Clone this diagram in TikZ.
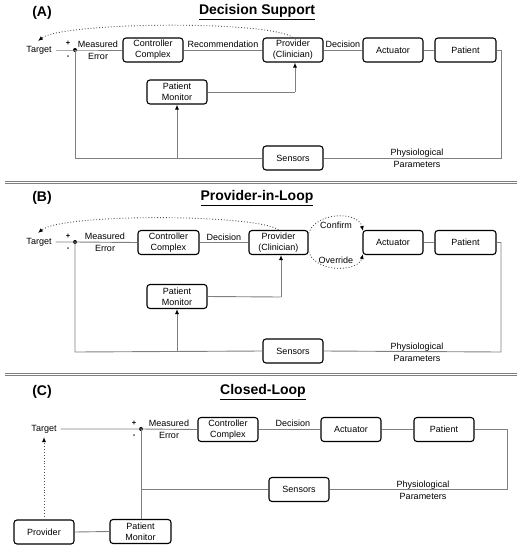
\documentclass[tikz,border=0pt]{standalone}
\usepackage{fontspec}
\setmainfont{Liberation Sans}
\usetikzlibrary{arrows.meta}
\definecolor{lineg}{HTML}{808080}
\definecolor{dotg}{HTML}{505050}
\tikzset{
  blk/.style={draw=black, line width=1.1pt, rounded corners=3pt, minimum width=60pt, minimum height=24pt, inner sep=1pt, align=center, font=\fontsize{9}{11}\selectfont},
  lbl/.style={inner sep=0pt, align=center, font=\fontsize{9}{11}\selectfont},
  sgn/.style={inner sep=0pt, font=\bfseries\fontsize{7.5}{8}\selectfont},
  ttl/.style={inner sep=0pt, font=\bfseries\fontsize{14}{16}\selectfont},
  conn/.style={draw=lineg, line width=0.9pt},
  arr/.style={conn, -{Latex[black,length=5pt,width=4pt]}},
  dot/.style={draw=dotg, line width=0.9pt, dotted, -{Latex[black,length=5pt,width=4pt]}},
  sep/.style={draw=lineg, line width=1pt},
  jdot/.style={fill=black, circle, inner sep=0pt, minimum size=4pt}
}
\begin{document}
\begin{tikzpicture}[x=1pt,y=-1pt]
\useasboundingbox (0,0) rectangle (523,550);

% ================= Panel A =================
\node[ttl] (labA) at (42,13) {(A)};
\node[ttl] (titA) at (257,12) {\underline{Decision Support}};
\node[lbl] (tgtA) at (39,50) {Target};
\node[jdot] (jA) at (75,50) {};
\node[sgn] (plA) at (68,43) {+};
\node[sgn] (miA) at (68,57) {-};
\node[blk] (ccA) at (153,50) {Controller\\Complex};
\node[blk] (prA) at (293,50) {Provider\\(Clinician)};
\node[blk] (acA) at (393,50) {Actuator};
\node[blk, minimum width=61pt] (paA) at (465.5,50) {Patient};
\node[blk] (pmA) at (177,92) {Patient\\Monitor};
\node[blk] (seA) at (293,158) {Sensors};
\node[lbl] (meA) at (98,50) {Measured\\[1pt]Error};
\node[lbl] (reA) at (223,44) {Recommendation};
\node[lbl] (deA) at (343,44) {Decision};
\node[lbl] (phA) at (417,158.5) {Physiological\\[1pt]Parameters};
\coordinate (rA1) at (501,50);
\coordinate (rA2) at (501,158);
\coordinate (lA) at (75,158);
\coordinate (bA) at (177,158);
\coordinate (mA) at (295,92);
\draw[conn] (tgtA.east) ++(4,0) -- (jA.center) -- (ccA.west);
\draw[conn] (ccA) -- (prA);
\draw[conn] (prA) -- (acA);
\draw[conn] (acA) -- (paA);
\draw[conn] (paA.east) -- (rA1) -- (rA2) -- (seA.east);
\draw[conn] (seA.west) -- (lA) -- (jA.center);
\draw[arr] (bA) -- (pmA.south);
\draw[conn] (pmA.east) -- (mA);
\draw[arr] (mA) -- (mA |- prA.south);
\draw[dot] (prA.north) .. controls (268,20) and (62,22) .. (38,41);

% separator
\draw[sep] (5,181) -- (517,181);
\draw[sep] (5,183.5) -- (517,183.5);

% ================= Panel B =================
\node[ttl] (labB) at (42,198) {(B)};
\node[ttl] (titB) at (257,198) {\underline{Provider-in-Loop}};
\node[lbl] (tgtB) at (39,242) {Target};
\node[jdot] (jB) at (75,242) {};
\node[sgn] (plB) at (68,236) {+};
\node[sgn] (miB) at (68,249) {-};
\node[blk, minimum width=61pt] (ccB) at (168.5,242.5) {Controller\\Complex};
\node[blk, minimum width=59pt] (prB) at (278.5,242.5) {Provider\\(Clinician)};
\node[blk] (acB) at (393,242.5) {Actuator};
\node[blk, minimum width=61pt] (paB) at (465.5,242.5) {Patient};
\node[blk] (pmB) at (177,296.5) {Patient\\Monitor};
\node[blk] (seB) at (293,351) {Sensors};
\node[lbl] (meB) at (105,242) {Measured\\[1pt]Error};
\node[lbl] (deB) at (224,237) {Decision};
\node[lbl] (coB) at (336,225) {Confirm};
\node[lbl] (ovB) at (336,260) {Override};
\node[lbl] (phB) at (417,352) {Physiological\\[1pt]Parameters};
\coordinate (rB1) at (501,242.5);
\coordinate (rB2) at (501,352);
\coordinate (lB) at (75,352);
\coordinate (bB) at (177,352);
\coordinate (mB) at (281,297);
\coordinate (cs) at (308,236);
\coordinate (ce) at (363,231);
\coordinate (os) at (308,249);
\coordinate (oe) at (363,254);
\draw[conn] (tgtB.east) ++(4,0) -- (jB.center) -- (ccB.west);
\draw[conn] (ccB) -- (prB);
\draw[conn] (acB) -- (paB);
\draw[conn] (paB.east) -- (rB1) -- (rB2) -- (seB.east);
\draw[conn] (seB.west) -- (lB) -- (jB.center);
\draw[arr] (bB) -- (pmB.south);
\draw[conn] (pmB.east) -- (mB);
\draw[arr] (mB) -- (mB |- prB.south);
\draw[dot] (cs) .. controls (312,212) and (358,210) .. (ce);
\draw[dot] (os) .. controls (312,273) and (358,273) .. (oe);
\draw[dot] (prB.north) .. controls (258,214) and (62,213) .. (38,233);

% separator
\draw[sep] (5,373.3) -- (517,373.3);
\draw[sep] (5,375.8) -- (517,375.8);

% ================= Panel C =================
\node[ttl] (labC) at (42,392) {(C)};
\node[ttl] (titC) at (263,392) {\underline{Closed-Loop}};
\node[lbl] (tgtC) at (44,429) {Target};
\node[jdot] (jC) at (141,429) {};
\node[sgn] (plC) at (134,423) {+};
\node[sgn] (miC) at (134,436) {-};
\node[blk] (ccC) at (228,429.5) {Controller\\Complex};
\node[blk] (acC) at (351,429.5) {Actuator};
\node[blk] (paC) at (444,429.5) {Patient};
\node[blk] (seC) at (299,489.5) {Sensors};
\node[blk, minimum width=61pt] (pmC) at (140.5,531.5) {Patient\\Monitor};
\node[blk] (pvC) at (44,532) {Provider};
\node[lbl] (meC) at (169,429) {Measured\\[1pt]Error};
\node[lbl] (deC) at (293,423) {Decision};
\node[lbl] (phC) at (423,490) {Physiological\\[1pt]Parameters};
\coordinate (rC1) at (507,429.5);
\coordinate (rC2) at (507,489.5);
\coordinate (lC) at (141,489.5);
\draw[conn] (tgtC.east) ++(4,0) -- (jC.center) -- (ccC.west);
\draw[conn] (ccC) -- (acC);
\draw[conn] (acC) -- (paC);
\draw[conn] (paC.east) -- (rC1) -- (rC2) -- (seC.east);
\draw[conn] (seC.west) -- (lC);
\draw[conn] (jC.center) -- (jC |- pmC.north);
\draw[conn] (pvC.east) -- (pmC.west);
\draw[dot] (pvC.north) -- (44,437);
\end{tikzpicture}
\end{document}
